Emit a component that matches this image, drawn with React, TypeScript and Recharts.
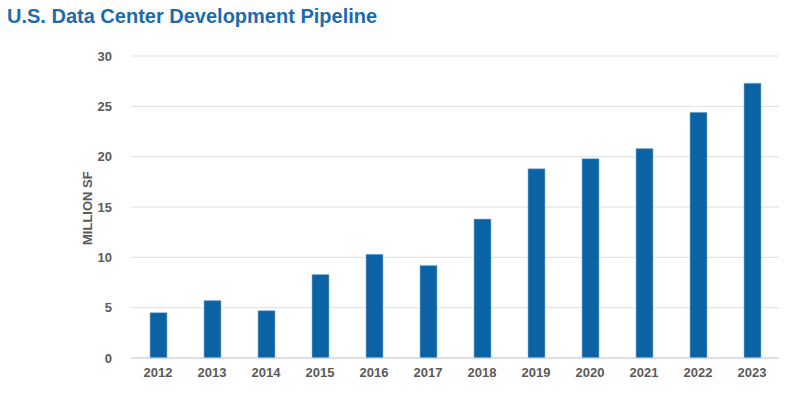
import React from "react";
import { BarChart, Bar, XAxis, YAxis, CartesianGrid } from "recharts";

const years = ["2012", "2013", "2014", "2015", "2016", "2017", "2018", "2019", "2020", "2021", "2022", "2023"];
const pipeline = [4.5, 5.7, 4.7, 8.3, 10.3, 9.2, 13.8, 18.8, 19.8, 20.8, 24.4, 27.3];
const yTicks = [0, 5, 10, 15, 20, 25, 30];

const data = years.map((y, i) => ({ year: y, value: pipeline[i] }));

const tickStyle = { fill: "#5a5a5a", fontSize: 13, fontWeight: 700, fontFamily: "Liberation Sans, Arial, sans-serif" };

export default function App() {
  return (
    <div style={{ position: "absolute", left: 0, top: 0, width: 800, height: 395, background: "#fff" }}>
      <div
        style={{
          position: "absolute",
          left: 7,
          top: 5,
          fontFamily: "Liberation Sans, Arial, sans-serif",
          fontWeight: 700,
          fontSize: 20,
          color: "#1d6aad",
          whiteSpace: "nowrap",
        }}
      >
        U.S. Data Center Development Pipeline
      </div>
      <BarChart
        width={800}
        height={395}
        data={data}
        margin={{ top: 56, right: 21, bottom: 7, left: 81 }}
      >
        <CartesianGrid vertical={false} stroke="#dedede" strokeWidth={1} />
        <XAxis
          dataKey="year"
          tick={tickStyle}
          tickLine={false}
          axisLine={{ stroke: "#d0d0d0" }}
          height={30}
          interval={0}
          tickMargin={4}
        />
        <YAxis
          domain={[0, 30]}
          ticks={yTicks}
          tick={tickStyle}
          tickLine={false}
          axisLine={false}
          width={50}
          tickMargin={13}
          label={{
            value: "MILLION SF",
            angle: -90,
            position: "insideLeft",
            dx: 1,
            dy: 38,
            style: { fill: "#5a5a5a", fontSize: 13, fontWeight: 700, fontFamily: "Liberation Sans, Arial, sans-serif" },
          }}
        />
        <Bar dataKey="value" fill="#0b63a4" stroke="#8fb6d8" strokeWidth={0.6} barSize={17} isAnimationActive={false} />
      </BarChart>
    </div>
  );
}
